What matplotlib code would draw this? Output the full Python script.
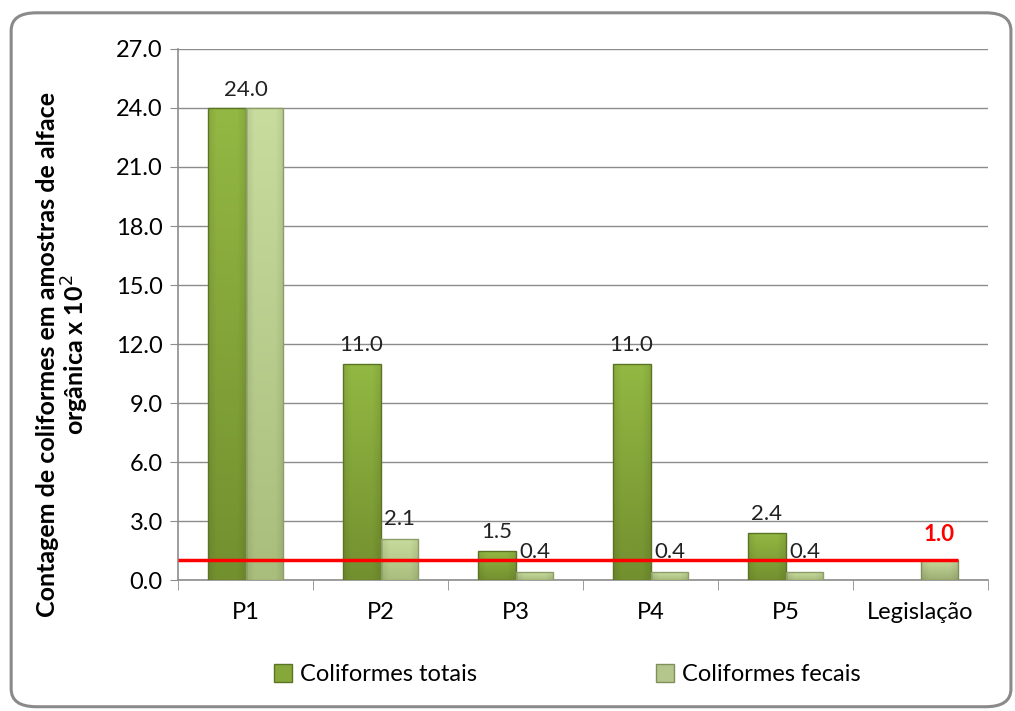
import matplotlib.pyplot as plt
import matplotlib.patches as patches
from matplotlib.colors import to_rgb
import numpy as np

categories = ["P1", "P2", "P3", "P4", "P5", "Legislação"]
totais = [24.0, 11.0, 1.5, 11.0, 2.4, 0.0]
fecais = [24.0, 2.1, 0.4, 0.4, 0.4, 1.0]
limite = 1.0
yticks = np.arange(0, 27.1, 3.0)

plt.rcParams['font.family'] = ['Lato', 'DejaVu Sans']

fig = plt.figure(figsize=(10.15, 7.11), dpi=100)
ax = fig.add_axes([0.1754, 0.1842, 0.7980, 0.7469])

x = np.arange(len(categories))
w = 0.28


def shade(bar, top, bottom, edge):
    # fill a bar with a soft vertical gradient, darker at the sides
    x0, y0 = bar.get_x(), bar.get_y()
    bw, bh = bar.get_width(), bar.get_height()
    t, b = np.array(to_rgb(top)), np.array(to_rgb(bottom))
    fy = np.linspace(1, 0, 60)[:, None, None]
    img = b + (t - b) * fy
    sx = np.linspace(-1, 1, 40)
    side = 1 - 0.12 * np.clip(np.abs(sx) * 1.6 - 0.9, 0, 1)
    img = img * side[None, :, None]
    im = ax.imshow(np.clip(img, 0, 1), extent=(x0, x0 + bw, y0, y0 + bh),
                   aspect="auto", zorder=3, interpolation="bilinear")
    im.set_clip_path(bar)
    bar.set_facecolor("none")
    bar.set_edgecolor(edge)


for i in range(len(categories)):
    if totais[i] > 0:
        b = ax.bar(x[i] - w / 2, totais[i], w, linewidth=1.0, zorder=4)[0]
        shade(b, "#93b843", "#73902f", "#5a7424")
    b = ax.bar(x[i] + w / 2, fecais[i], w, linewidth=1.0, zorder=4)[0]
    if i < 5:
        shade(b, "#c8dc9e", "#a9bd7c", "#8c9d68")
    else:
        shade(b, "#c9d99c", "#9cae72", "#7f8f5c")

# value labels
for i in range(len(categories)):
    if i == 0:
        ax.annotate(f"{totais[i]:.1f}", (x[i], totais[i]), xytext=(0, 6),
                    textcoords="offset points", ha="center", va="bottom",
                    fontsize=16, color="#222222")
        continue
    if totais[i] > 0:
        ax.annotate(f"{totais[i]:.1f}", (x[i] - w / 2, totais[i]), xytext=(0, 6),
                    textcoords="offset points", ha="center", va="bottom",
                    fontsize=16, color="#222222")
    if i < 5:
        ax.annotate(f"{fecais[i]:.1f}", (x[i] + w / 2, fecais[i]), xytext=(0, 7),
                    textcoords="offset points", ha="center", va="bottom",
                    fontsize=16, color="#222222")
    else:
        ax.annotate(f"{fecais[i]:.1f}", (x[i] + w / 2, fecais[i]), xytext=(0, 11),
                    textcoords="offset points", ha="center", va="bottom",
                    fontsize=16, color="red", fontweight="bold")

# legal limit line
ax.hlines(limite, -0.5, x[-1] + w, color="red", linewidth=2.5, zorder=5)

ax.set_xlim(-0.5, len(categories) - 0.5)
ax.set_ylim(0, 27.0)
ax.set_yticks(yticks)
ax.set_yticklabels([f"{v:.1f}" for v in yticks])
ax.yaxis.grid(True, color="#8c8c8c", linewidth=1.0, zorder=0)
ax.set_axisbelow(True)

ax.set_xticks(x)
ax.set_xticklabels(categories)
ax.set_xticks(np.arange(-0.5, len(categories), 1.0), minor=True)
ax.tick_params(axis="x", which="major", length=0, pad=16, labelsize=17)
ax.tick_params(axis="x", which="minor", length=7, color="#8c8c8c")
ax.tick_params(axis="y", length=6, color="#8c8c8c", labelsize=17, pad=5)

for s in ["top", "right"]:
    ax.spines[s].set_visible(False)
for s in ["left", "bottom"]:
    ax.spines[s].set_color("#8c8c8c")
    ax.spines[s].set_linewidth(1.2)

ax.set_ylabel("Contagem de coliformes em amostras de alface\norgânica x 10$^2$",
              fontsize=18, fontweight="bold", linespacing=1.0)
ax.yaxis.set_label_coords(-0.108, 0.424)

handles = [patches.Patch(facecolor="#86a83a", edgecolor="#5a7424"),
           patches.Patch(facecolor="#b5c68c", edgecolor="#7f8f5c")]
fig.legend(handles, ["Coliformes totais", "Coliformes fecais"],
           loc="center", bbox_to_anchor=(0.559, 0.051), ncol=2, frameon=False,
           fontsize=17, columnspacing=7.6, handlelength=0.75, handleheight=0.75,
           handletextpad=0.35)

border = patches.FancyBboxPatch((0.011, 0.006), 0.985, 0.976,
                                boxstyle="round,pad=0,rounding_size=0.025",
                                transform=fig.transFigure, fill=False,
                                edgecolor="#8a8a8a", linewidth=2.2)
fig.patches.append(border)

fig.savefig("out.png", dpi=100)
